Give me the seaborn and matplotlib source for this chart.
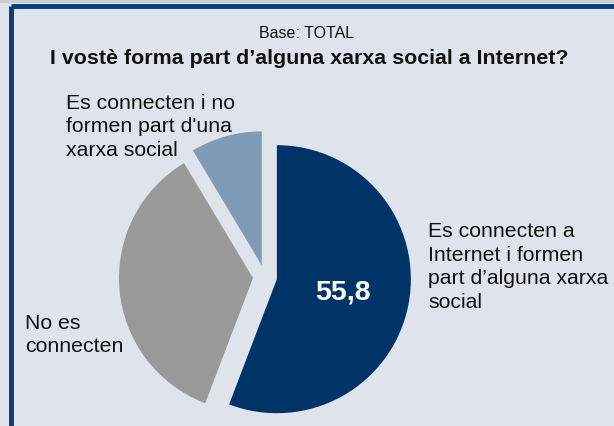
import seaborn as sns
import matplotlib.pyplot as plt

# share of respondents (%), clockwise from 12 o'clock
categories = ["Es connecten a\nInternet i formen\npart d\u2019alguna xarxa\nsocial",
              "No es\nconnecten",
              "Es connecten i no\nformen part d'una\nxarxa social"]
values = [55.8, 35.6, 8.6]
shown_value = ["55,8", "", ""]

BG = "#dfe3eb"
NAVY = "#003366"
colors = [NAVY, "#999999", "#7f9bb6"]

sns.set_theme(style="white")
plt.rcParams["font.family"] = ["Liberation Sans", "DejaVu Sans"]

fig = plt.figure(figsize=(6.14, 4.26), dpi=100)
fig.patch.set_facecolor(BG)
ax = fig.add_axes([0, 0, 1, 1])
ax.set_facecolor(BG)

R = 134
# explode offset is in data units (not a fraction of the radius)
wedges, _ = ax.pie(values, colors=colors, startangle=90, counterclock=False,
                   explode=[0.09 * R] * 3, center=(265, 149), radius=R,
                   wedgeprops=dict(linewidth=0))

# pie() resets the limits, so set them afterwards (pixel-like coordinates)
ax.set_xlim(0, 614)
ax.set_ylim(0, 426)
ax.set_aspect("equal")
ax.axis("off")

# frame lines (top and left)
ax.plot([10.5, 614], [420.5, 420.5], color="#0a3d73", lw=3.5, solid_capstyle="butt")
ax.plot([10.5, 10.5], [0, 420.5], color="#0a3d73", lw=3.5, solid_capstyle="butt")
ax.axhspan(423, 426, color="#c9ced8", lw=0)

ax.text(307, 393, "Base: TOTAL", ha="center", va="center", fontsize=11.5, color="#111111")
ax.text(309, 368, "I vost\u00e8 forma part d\u2019alguna xarxa social a Internet?",
        ha="center", va="center", fontsize=15.4, fontweight="bold", color="#111111")

ax.text(343, 134, shown_value[0], ha="center", va="center", fontsize=20.5,
        fontweight="bold", color="white")

lab = dict(ha="left", va="center", fontsize=15.3, linespacing=1.33, color="#111111")
ax.text(428, 159, categories[0], **lab)
ax.text(25, 91, categories[1], **lab)
ax.text(66, 299, categories[2], **lab)

fig.savefig("out.png", dpi=100, facecolor=BG)
